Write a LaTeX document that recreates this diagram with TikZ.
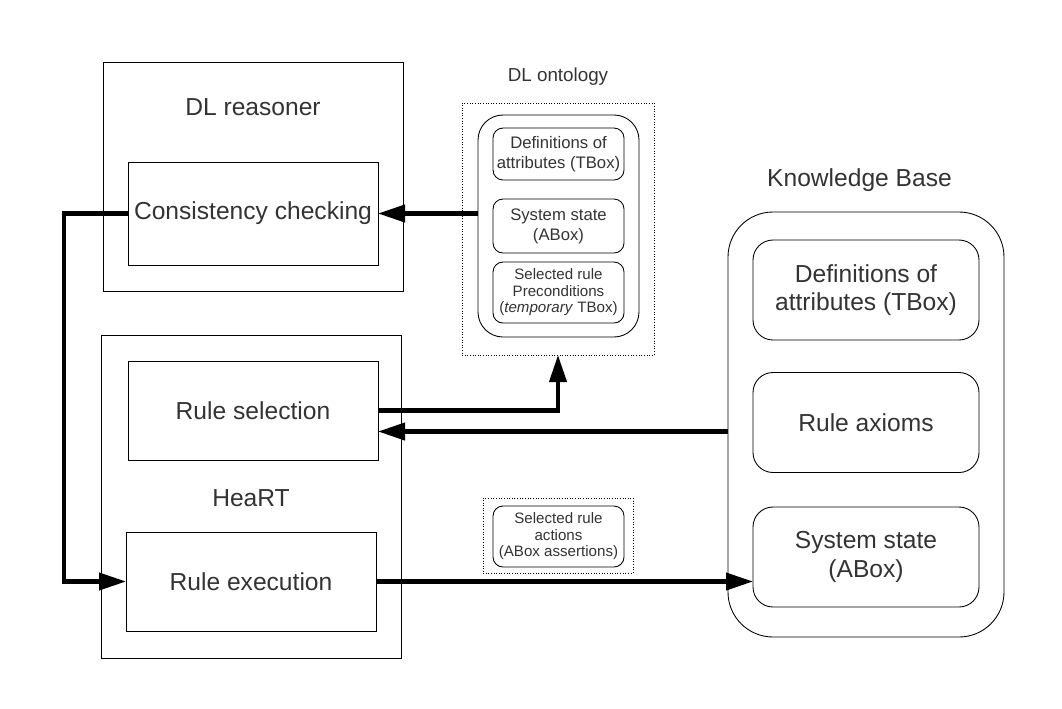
\documentclass[tikz,border=0pt]{standalone}
\usepackage{fontspec}
\setmainfont{Liberation Sans}
\usepackage{xcolor}
\definecolor{txtgray}{HTML}{333333}
\usetikzlibrary{arrows.meta}

\begin{document}
\begin{tikzpicture}[every node/.style={inner sep=1pt,outer sep=0,text=txtgray,align=center},
    bigtext/.style={font=\fontsize{14}{16}\selectfont},
    midtext/.style={font=\fontsize{10.7}{12.5}\selectfont},
    smalltext/.style={font=\fontsize{9.5}{11.4}\selectfont},
    tinytext/.style={font=\fontsize{8.6}{9.4}\selectfont},
    box/.style={draw,line width=0.5pt},
    rbox/.style={draw,line width=0.5pt,rounded corners=0.4cm},
    dotbox/.style={draw,line width=0.5pt,densely dotted},
    conn/.style={line width=2.3pt,-{Triangle[length=0.54cm,width=0.34cm]}}]
    \useasboundingbox (0,0) rectangle (21.24,-14.16);

    % DL reasoner
    \node(dlr)[box,minimum width=6cm,minimum height=4.58cm] at (5.06,-3.53) {};
    \node(dlrl)[bigtext] at ([yshift=-0.9cm]dlr.north) {DL reasoner};
    \node(cc)[box,bigtext,minimum width=5cm,minimum height=2.06cm] at (5.06,-4.27) {Consistency checking};

    % HeaRT
    \node(heart)[box,minimum width=6cm,minimum height=6.46cm] at (5.02,-9.93) {};
    \node(heartl)[bigtext] at ([yshift=-0.03cm]heart.center) {HeaRT};
    \node(rs)[box,bigtext,minimum width=5cm,minimum height=1.98cm] at (5.06,-8.21) {Rule selection};
    \node(rx)[box,bigtext,minimum width=5cm,minimum height=1.98cm] at (5.02,-11.63) {Rule execution};

    % DL ontology
    \node(onto)[dotbox,minimum width=3.84cm,minimum height=5.04cm] at (11.16,-4.58) {};
    \node(ontol)[midtext] at ([yshift=0.52cm]onto.north) {DL ontology};
    \node(ontoin)[rbox,rounded corners=0.5cm,minimum width=3.22cm,minimum height=4.44cm] at (11.17,-4.52) {};
    \node(od)[rbox,rounded corners=0.2cm,smalltext,minimum width=2.62cm,minimum height=1.04cm] at (11.17,-3.08) {Definitions of\\attributes (TBox)};
    \node(os)[rbox,rounded corners=0.2cm,smalltext,minimum width=2.62cm,minimum height=1.08cm] at (11.17,-4.52) {System state\\(ABox)};
    \node(op)[rbox,rounded corners=0.2cm,tinytext,minimum width=2.62cm,minimum height=1.22cm] at (11.17,-5.85) {Selected rule\\Preconditions\\(\emph{temporary} TBox)};

    % rule actions
    \node(act)[dotbox,minimum width=3cm,minimum height=1.5cm] at (11.16,-10.71) {};
    \node(actin)[rbox,rounded corners=0.2cm,tinytext,minimum width=2.62cm,minimum height=1.22cm] at (11.17,-10.73) {Selected rule\\actions\\(ABox assertions)};

    % Knowledge Base
    \node(kb)[rbox,rounded corners=0.9cm,minimum width=5.52cm,minimum height=8.5cm] at (17.32,-8.49) {};
    \node(kbl)[bigtext] at ([xshift=-0.13cm,yshift=0.63cm]kb.north) {Knowledge Base};
    \node(kd)[rbox,bigtext,minimum width=4.52cm,minimum height=2cm] at (17.32,-5.8) {Definitions of\\attributes (TBox)};
    \node(ka)[rbox,bigtext,minimum width=4.52cm,minimum height=2cm] at (17.32,-8.45) {Rule axioms};
    \node(ks)[rbox,bigtext,minimum width=4.52cm,minimum height=2cm] at (17.32,-11.14) {System state\\(ABox)};

    \coordinate(kbin) at ([yshift=-0.42cm]rs.east);
    \draw[conn] (ontoin.west |- cc.east) -- (cc.east);
    \draw[conn] (cc.west) -- ++(-1.28,0) |- (rx.west);
    \draw[conn] (rs.east) -| (onto.south);
    \draw[conn] (kb.west |- kbin) -- (kbin);
    \draw[conn] (rx.east) -- (ks.west |- rx.east);
\end{tikzpicture}
\end{document}
